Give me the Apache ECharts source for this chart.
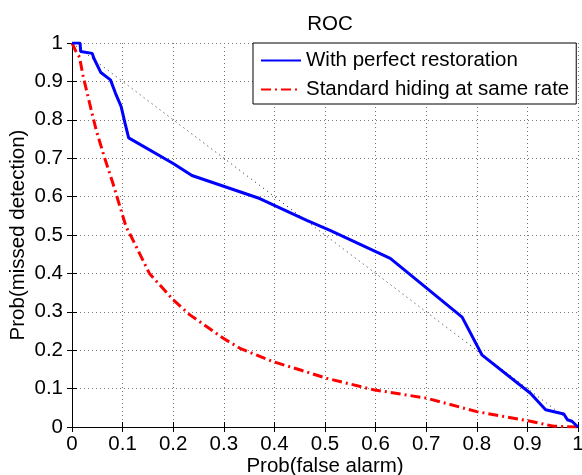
<!DOCTYPE html>
<html><head><meta charset="utf-8">
<script src="https://cdn.jsdelivr.net/npm/echarts@6/dist/echarts.min.js"></script>
<style>html,body{margin:0;padding:0;background:#fff}#c{width:582px;height:475px}</style>
</head><body><div id="c"></div>
<script>
const titleText = "ROC";
const xLabel = "Prob(false alarm)";
const yLabel = "Prob(missed detection)";
const seriesNames = ["With perfect restoration", "Standard hiding at same rate"];
const tickValues = [0,0.1,0.2,0.3,0.4,0.5,0.6,0.7,0.8,0.9,1];
const perfectX = [0,0.016,0.017,0.04,0.043,0.057,0.076,0.086,0.097,0.105,0.112,0.2,0.237,0.371,0.464,0.51,0.629,0.771,0.81,0.906,0.936,0.972,0.979,0.988,1];
const perfectY = [1,1,0.978,0.973,0.961,0.923,0.904,0.869,0.835,0.79,0.753,0.686,0.655,0.595,0.538,0.512,0.439,0.286,0.188,0.088,0.045,0.034,0.019,0.015,0];
const standardX = [0,0.007,0.015,0.021,0.035,0.048,0.064,0.081,0.097,0.107,0.114,0.153,0.2,0.233,0.299,0.332,0.398,0.45,0.503,0.596,0.701,0.8,0.906,0.952,1];
const standardY = [1,0.98,0.963,0.919,0.842,0.772,0.703,0.634,0.564,0.521,0.504,0.4,0.331,0.292,0.231,0.205,0.17,0.149,0.127,0.097,0.075,0.04,0.015,0.002,0];
const chanceX = [0,1];
const chanceY = [1,0];

const zip = (a,b) => a.map((v,i)=>[v,b[i]]);
const font = "Liberation Sans";
const fs = 20.5;
const chart = echarts.init(document.getElementById('c'), null, {renderer:'canvas'});
const gridLine = {show:true, lineStyle:{color:'#777', type:[1,3], width:1}};
const baseAxis = {
  type:'value', min:0, max:1, interval:0.1,
  axisLine:{show:true, lineStyle:{color:'#000', width:1}},
  axisTick:{show:true, inside:true, length:5, lineStyle:{color:'#000'}},
  splitLine:{show:false}
};
const fmt = v => (Math.round(v*10)/10).toString();
chart.setOption({
  animation:false,
  backgroundColor:'#fff',
  title:{text:titleText, left:325, top:9, textAlign:'center', textStyle:{fontFamily:font, fontSize:fs, fontWeight:'normal', color:'#000'}},
  grid:{left:72, right:4, top:43, bottom:48, containLabel:false, outerBoundsMode:'none'},
  legend:{
    data:seriesNames, orient:'vertical', left:253, top:43,
    backgroundColor:'#fff', borderColor:'#000', borderWidth:1, borderRadius:0,
    padding:[7,7,4,7], itemGap:8, itemWidth:40, itemHeight:21,
    itemStyle:{opacity:0},
    textStyle:{fontFamily:font, fontSize:fs, color:'#000'}
  },
  xAxis:[
    Object.assign({}, baseAxis, {position:'bottom',
      name:xLabel, nameLocation:'middle', nameGap:29, nameMoveOverlap:false,
      nameTextStyle:{fontFamily:font, fontSize:fs, color:'#000'},
      axisLabel:{fontFamily:font, fontSize:fs, color:'#000', margin:7, formatter:fmt},
      splitLine:gridLine}),
    Object.assign({}, baseAxis, {position:'top', axisLabel:{show:false}})
  ],
  yAxis:[
    Object.assign({}, baseAxis, {position:'left',
      name:yLabel, nameLocation:'middle', nameGap:43, nameMoveOverlap:false,
      nameTextStyle:{fontFamily:font, fontSize:fs, color:'#000'},
      axisLabel:{fontFamily:font, fontSize:fs, color:'#000', margin:9, formatter:fmt},
      splitLine:gridLine}),
    Object.assign({}, baseAxis, {position:'right', axisLabel:{show:false}})
  ],
  series:[
    {name:'chance', type:'line', data:zip(chanceX,chanceY), showSymbol:false, symbol:'none', silent:true,
     lineStyle:{color:'#222', width:1, type:[1,4]}, z:1},
    {name:seriesNames[0], type:'line', data:zip(perfectX,perfectY), showSymbol:false, symbol:'none',
     lineStyle:{color:'#0000ff', width:3}, itemStyle:{color:'#0000ff'}, z:3},
    {name:seriesNames[1], type:'line', data:zip(standardX,standardY), showSymbol:false, symbol:'none',
     lineStyle:{color:'#ff0000', width:3, type:[10,4,2,4]}, itemStyle:{color:'#ff0000'}, z:2}
  ]
});
</script></body></html>
